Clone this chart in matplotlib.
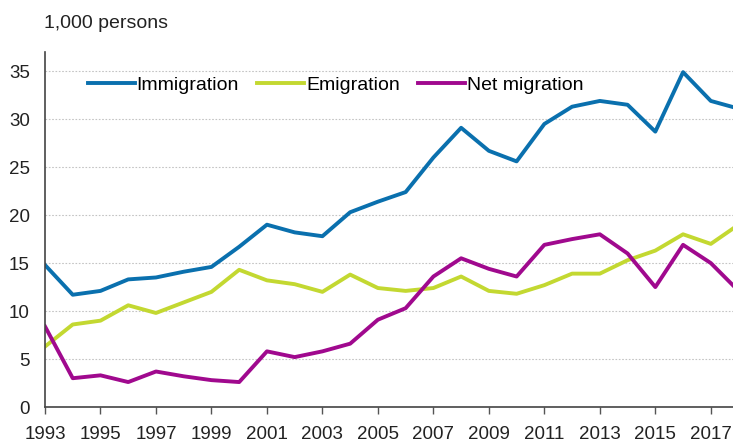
import matplotlib
matplotlib.use("Agg")
import matplotlib.pyplot as plt

plt.rcParams['font.family'] = ['Liberation Sans', 'DejaVu Sans']

years = list(range(1993, 2019))
immigration = [14.8, 11.7, 12.1, 13.3, 13.5, 14.1, 14.6, 16.7, 19.0, 18.2, 17.8, 20.3, 21.4, 22.4,
               26.0, 29.1, 26.7, 25.6, 29.5, 31.3, 31.9, 31.5, 28.7, 34.9, 31.9, 31.1]
emigration = [6.3, 8.6, 9.0, 10.6, 9.8, 10.9, 12.0, 14.3, 13.2, 12.8, 12.0, 13.8, 12.4, 12.1,
              12.4, 13.6, 12.1, 11.8, 12.7, 13.9, 13.9, 15.3, 16.3, 18.0, 17.0, 19.0]
net_migration = [8.4, 3.0, 3.3, 2.6, 3.7, 3.2, 2.8, 2.6, 5.8, 5.2, 5.8, 6.6, 9.1, 10.3,
                 13.6, 15.5, 14.4, 13.6, 16.9, 17.5, 18.0, 16.0, 12.5, 16.9, 15.0, 12.1]
xtick_years = list(range(1993, 2019, 2))

fs = 13.5
fig = plt.figure(figsize=(7.33, 4.45), dpi=100)
ax = fig.add_axes([45/733, 38/445, 688/733, 355/445])

ax.plot(years, immigration, color='#0a70ae', lw=2.8, label='Immigration')
ax.plot(years, emigration, color='#c3d831', lw=2.8, label='Emigration')
ax.plot(years, net_migration, color='#a0098e', lw=2.8, label='Net migration')

ax.set_xlim(1993, 2017.8)
ax.set_ylim(0, 37)
ax.set_yticks(range(0, 36, 5))
ax.set_xticks(xtick_years)
ax.tick_params(axis='y', length=0, labelsize=fs, pad=11, colors='#222222')
ax.tick_params(axis='x', length=5, width=1, labelsize=fs, pad=9, color='#555555', labelcolor='#222222')
ax.grid(axis='y', color='#c4c4c4', linestyle=(0, (1.5, 1.5)), linewidth=0.8)
ax.set_axisbelow(True)
for s in ['top', 'right']:
    ax.spines[s].set_visible(False)
for s in ['left', 'bottom']:
    ax.spines[s].set_color('#444444')
    ax.spines[s].set_linewidth(1.2)

fig.text(44/733, 1 - 23/445, '1,000 persons', fontsize=14, color='#222222', va='center')

ax.legend(loc='center left', bbox_to_anchor=((88 - 45)/688, (407 - 85)/355), ncol=3, frameon=False,
          fontsize=14, handlelength=2.4, handletextpad=0.1, columnspacing=0.95,
          borderpad=0, borderaxespad=0)

fig.savefig('out.png', dpi=100)
